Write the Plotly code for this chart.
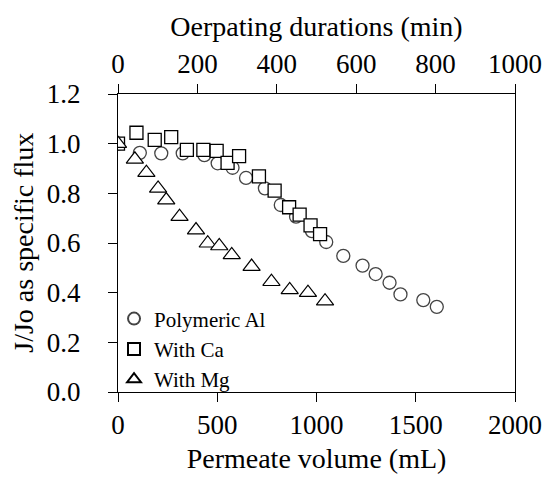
import plotly.graph_objects as go

# Polymeric Al (circles)
al_vol = [0, 110, 218, 326, 435, 502, 577, 645, 740, 820, 897, 977, 1049, 1135, 1232, 1298, 1368, 1423, 1538, 1606]
al_flux = [1.0, 0.963, 0.961, 0.961, 0.954, 0.921, 0.903, 0.862, 0.82, 0.753, 0.706, 0.648, 0.604, 0.548, 0.509, 0.475, 0.44, 0.393, 0.37, 0.343]

# With Ca (squares)
ca_vol = [0, 93, 185, 268, 347, 430, 497, 552, 610, 710, 789, 862, 915, 970, 1018]
ca_flux = [1.0, 1.044, 1.015, 1.026, 0.975, 0.975, 0.971, 0.923, 0.95, 0.868, 0.811, 0.744, 0.714, 0.671, 0.636]

# With Mg (triangles)
mg_vol = [0, 85, 143, 202, 243, 310, 393, 452, 510, 573, 673, 773, 865, 957, 1043]
mg_flux = [1.0, 0.937, 0.883, 0.82, 0.773, 0.706, 0.652, 0.599, 0.588, 0.552, 0.505, 0.444, 0.411, 0.4, 0.366]

series_names = ["Polymeric Al", "With Ca", "With Mg"]

FONT = "Liberation Serif"

fig = go.Figure()
fig.add_trace(go.Scatter(
    x=al_vol, y=al_flux, mode="markers", name=series_names[0],
    marker=dict(symbol="circle", size=13, color="rgba(0,0,0,0)",
                line=dict(color="#444444", width=1.3))))
fig.add_trace(go.Scatter(
    x=ca_vol, y=ca_flux, mode="markers", name=series_names[1],
    marker=dict(symbol="square", size=13, color="white",
                line=dict(color="black", width=1.3))))
fig.add_trace(go.Scatter(
    x=mg_vol, y=mg_flux, mode="markers", name=series_names[2],
    marker=dict(symbol="triangle-up", size=15, color="white",
                line=dict(color="black", width=1.2))))
# invisible trace to anchor the top (time) axis
fig.add_trace(go.Scatter(x=[0, 1000], y=[None, None], xaxis="x2",
                         showlegend=False, hoverinfo="skip", mode="markers"))

axis_common = dict(showgrid=False, zeroline=False, showline=True,
                   linecolor="black", linewidth=1, ticks="outside",
                   ticklen=9, tickcolor="black", tickwidth=1,
                   tickfont=dict(family=FONT, size=27, color="black"))

fig.update_layout(
    width=554, height=482,
    margin=dict(l=118, r=36, t=94, b=90),
    paper_bgcolor="white", plot_bgcolor="white",
    font=dict(family=FONT, color="black"),
    showlegend=True,
    legend=dict(x=-0.01, y=-0.025, xanchor="left", yanchor="bottom",
                bgcolor="rgba(0,0,0,0)", font=dict(family=FONT, size=21),
                itemsizing="constant", tracegroupgap=0, itemwidth=30),
    xaxis=dict(range=[0, 2000], tickvals=[0, 500, 1000, 1500, 2000],
               title=dict(text="Permeate volume (mL)",
                          font=dict(family=FONT, size=28), standoff=8),
               **axis_common),
    xaxis2=dict(range=[0, 1000], tickvals=[0, 200, 400, 600, 800, 1000],
                overlaying="x", side="top", anchor="y",
                title=dict(text="Oerpating durations (min)",
                           font=dict(family=FONT, size=28), standoff=4),
                **axis_common),
    yaxis=dict(range=[0, 1.2], tickvals=[0, 0.2, 0.4, 0.6, 0.8, 1.0, 1.2],
               tickformat=".1f", mirror=True, ticklabelstandoff=22,
               **axis_common),
    annotations=[dict(text="J/Jo as specific flux", textangle=-90,
                      xref="paper", yref="paper", x=-0.24, y=0.5,
                      xanchor="center", yanchor="middle", showarrow=False,
                      font=dict(family=FONT, size=28, color="black"))],
)

fig.write_html("out.html")
